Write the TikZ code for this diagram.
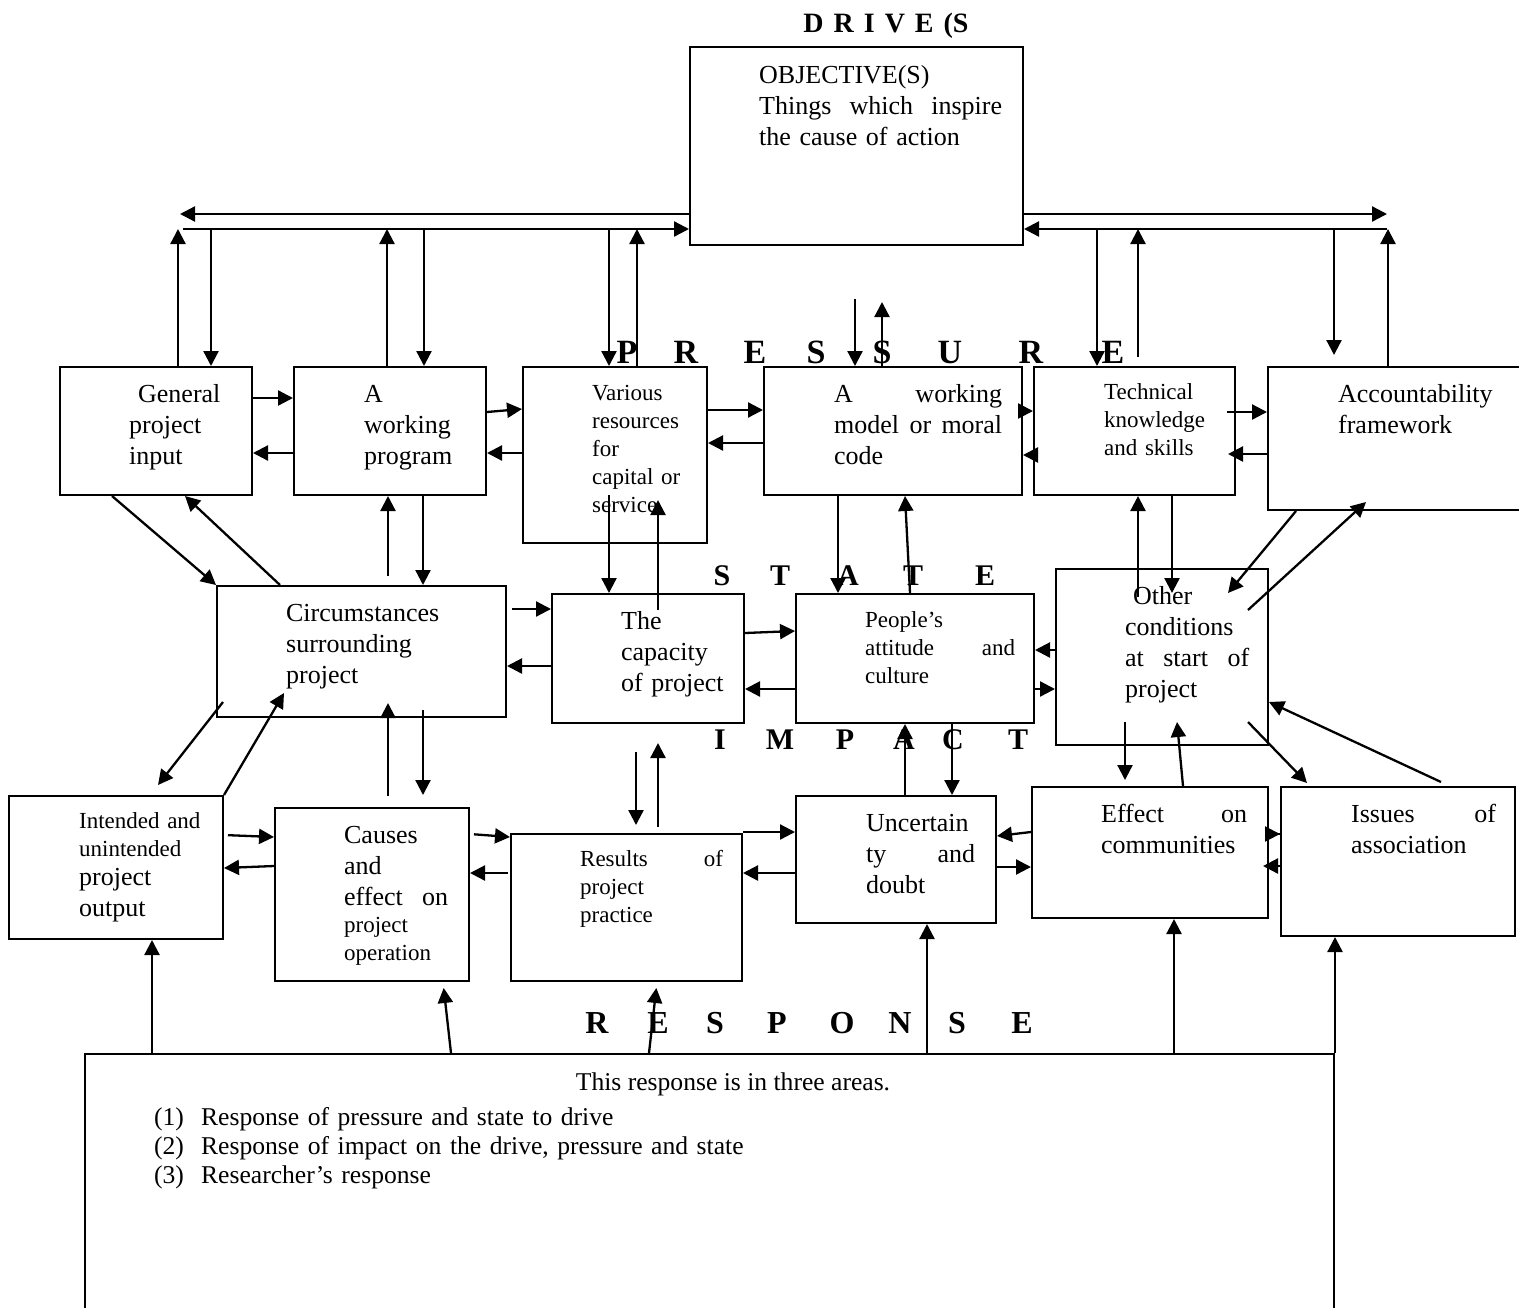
\documentclass[tikz,border=0pt]{standalone}
\usepackage{fontspec}
\setmainfont{Liberation Serif}
\usetikzlibrary{arrows.meta, fit, calc}

\begin{document}
\begin{tikzpicture}[x=0.5pt, y=-0.5pt, >={Triangle[length=7.5pt,width=7.5pt]}, line width=1.15pt,
    blk/.style={draw, line width=1pt, inner sep=0pt},
    txt/.style={anchor=base west, inner sep=0pt, align=left, font=\fontsize{13}{15.5}\selectfont},
    stxt/.style={txt, font=\fontsize{11.5}{14}\selectfont},
    rtxt/.style={txt, font=\fontsize{12.8}{14.5}\selectfont},
    ttl/.style={anchor=base, inner sep=0pt, font=\bfseries\fontsize{#1}{#1}\selectfont}]
    \path[use as bounding box] (0,0) rectangle (1519,1307);

    % boxes
    \node[blk, fit={(690,47) (1023,245)}] (drive) {};
    \node[blk, fit={(60,367) (252,495)}] (gpi) {};
    \node[blk, fit={(294,367) (486,495)}] (awp) {};
    \node[blk, fit={(523,367) (707,543)}] (vres) {};
    \node[blk, fit={(764,367) (1022,495)}] (wmod) {};
    \node[blk, fit={(1034,367) (1235,495)}] (tech) {};
    \node[blk, fit={(1268,367) (1522,510)}] (acct) {};
    \node[blk, fit={(217,586) (506,717)}] (circ) {};
    \node[blk, fit={(552,594) (744,723)}] (capa) {};
    \node[blk, fit={(796,594) (1034,723)}] (peop) {};
    \node[blk, fit={(1056,569) (1268,745)}] (othr) {};
    \node[blk, fit={(9,796) (223,939)}] (intd) {};
    \node[blk, fit={(275,808) (469,981)}] (caus) {};
    \node[blk, fit={(511,834) (742,981)}] (rslt) {};
    \node[blk, fit={(796,796) (996,923)}] (unct) {};
    \node[blk, fit={(1032,787) (1268,918)}] (effc) {};
    \node[blk, fit={(1281,787) (1515,936)}] (issu) {};
    \node[blk, fit={(85,1054) (1334,1330)}] (resp) {};

    % texts
    \node[ttl=14] (drv-t) at (886,32) {\spaceskip=5pt D R I V E (S};
    \node[txt, text width=121.5pt] (drive-t) at (758,83) {OBJECTIVE(S)\\Things\hfill which\hfill inspire\\the cause of action};
    \node[txt, text width=60pt] (gpi-t) at (128,402) {\hspace*{4.5pt}General\\project\\input};
    \node[txt, text width=60pt] (awp-t) at (363,402) {A\\working\\program};
    \node[stxt, text width=60pt] (vres-t) at (591,400) {Various\\resources\\for\\capital or\\service};
    \node[txt, text width=84pt] (wmod-t) at (833,402) {A\hfill working\\model\hfill or\hfill moral\\code};
    \node[stxt, text width=60pt] (tech-t) at (1103,399) {Technical\\knowledge\\and skills};
    \node[txt, text width=90pt] (acct-t) at (1337,402) {Accountability\\framework};
    \node[txt, text width=90pt] (circ-t) at (285,621) {Circumstances\\surrounding\\project};
    \node[txt, text width=60pt] (capa-t) at (620,629) {The\\capacity\\of project};
    \node[stxt, text width=75pt] (peop-t) at (864,627) {People’s\\attitude\hfill and\\culture};
    \node[txt, text width=62pt] (othr-t) at (1124,604) {\hspace*{4pt}Other\\conditions\\at\hfill start\hfill of\\project};
    \node[stxt, text width=70pt] (intd-t) at (78,828) {Intended and\\unintended};
    \node[txt, text width=70pt] (intd-u) at (78,885) {project\\output};
    \node[txt, text width=52pt] (caus-t) at (343,843) {Causes\\and\\effect\hfill on};
    \node[stxt, text width=52pt] (caus-u) at (343,932) {project\\operation};
    \node[stxt, text width=71.5pt] (rslt-t) at (579,866) {Results\hfill of\\project\\practice};
    \node[txt, text width=54.5pt] (unct-t) at (865,831) {Uncertain\\ty\hfill and\\doubt};
    \node[txt, text width=73pt] (effc-t) at (1100,822) {Effect\hfill on\\communities};
    \node[txt, text width=72.5pt] (issu-t) at (1350,822) {Issues\hfill of\\association};
    \node[rtxt, anchor=base] (resp-h) at (733,1090) {This response is in three areas.};
    \node[rtxt, text width=30pt] (resp-n) at (153,1125) {(1)\\(2)\\(3)};
    \node[rtxt, text width=400pt] (resp-l) at (200,1125) {Response of pressure and state to drive\\Response of impact on the drive, pressure and state\\Researcher’s response};

    % spaced headings
    \foreach \x/\c [count=\i] in {627/P,686/R,755/E,816/S,882/S,950/U,1031/R,1113/E}
        \node[ttl=17] (pr\i) at (\x,363) {\c};
    \foreach \x/\c [count=\i] in {722/S,780/T,848/A,913/T,985/E}
        \node[ttl=15] (st\i) at (\x,585) {\c};
    \foreach \x/\c [count=\i] in {720/I,780/M,845/P,904/A,953/C,1018/T}
        \node[ttl=15] (im\i) at (\x,749) {\c};
    \foreach \x/\c [count=\i] in {597/R,658/E,715/S,777/P,842/O,900/N,957/S,1022/E}
        \node[ttl=16] (re\i) at (\x,1033) {\c};

    % bus lines
    \coordinate (busLa) at (180,214); \coordinate (busLb) at (183,229);
    \coordinate (busRa) at (1387,214); \coordinate (busRb) at (1387,229);
    \draw[->] (drive.west |- busLa) -- (busLa);
    \draw[->] (busLb) -- (drive.west |- busLb);
    \draw[->] (drive.east |- busRa) -- (busRa);
    \draw[->] (busRb) -- (drive.east |- busRb);

    \draw[->] (gpi.north -| 178,0) -- (busLb -| 178,0);
    \draw[->] (busLb -| 211,0) -- (gpi.north -| 211,0);
    \draw[->] (awp.north -| 387,0) -- (busLb -| 387,0);
    \draw[->] (busLb -| 424,0) -- (awp.north -| 424,0);
    \draw[->] (busLb -| 609,0) -- (vres.north -| 609,0);
    \draw[->] (vres.north -| 637,0) -- (busLb -| 637,0);
    \draw[->] (busRb -| 1097,0) -- (tech.north -| 1097,0);
    \draw[->, shorten <=4.5pt] (tech.north -| 1138,0) -- (busRb -| 1138,0);
    \draw[->, shorten >=5.5pt] (busRb -| 1334,0) -- (acct.north -| 1334,0);
    \draw[->] (acct.north -| 1388,0) -- (busRb -| 1388,0);

    \coordinate (wm-in) at (855,299); \coordinate (wm-out) at (882,302);
    \draw[->] (wm-in) -- (wmod.north -| wm-in);
    \draw[->] (wmod.north -| wm-out) -- (wm-out);

    % first row
    \draw[->] (gpi.east |- 0,398) -- (awp.west |- 0,398);
    \draw[->] (awp.west |- 0,453) -- (gpi.east |- 0,453);
    \draw[->] (awp.east |- 0,412) -- (vres.west |- 0,409);
    \draw[->] (vres.west |- 0,453) -- (awp.east |- 0,453);
    \draw[->] (vres.east |- 0,410) -- (wmod.west |- 0,410);
    \draw[->] (wmod.west |- 0,443) -- (vres.east |- 0,443);
    \draw[->] (wmod.east |- 0,411) -- (tech.west |- 0,411);
    \draw[->] (tech.west |- 0,455) -- (wmod.east |- 0,455);
    \draw[->, shorten <=-4.5pt] (tech.east |- 0,412) -- (acct.west |- 0,412);
    \draw[->, shorten >=-4pt] (acct.west |- 0,454) -- (tech.east |- 0,454);

    % first row to second row
    \coordinate (vr-a) at (609,495); \coordinate (vr-b) at (658,500);
    \coordinate (cp-a) at (658,610);
    \coordinate (oc-a) at (1138,597); \coordinate (oc-b) at (1172,593);
    \coordinate (oc-c) at (1228,593); \coordinate (oc-d) at (1248,610);
    \coordinate (af-a) at (1366,502);
    \draw[->] (gpi.south -| 112,0) -- (circ.north west);
    \draw[->] (circ.north -| 280,0) -- (gpi.south -| 185,0);
    \draw[->, shorten <=4.5pt] (circ.north -| 388,0) -- (awp.south -| 388,0);
    \draw[->] (awp.south -| 423,0) -- (circ.north -| 423,0);
    \draw[->] (vr-a) -- (capa.north -| vr-a);
    \draw[->] (cp-a) -- (vr-b);
    \draw[->] (wmod.south -| 838,0) -- (peop.north -| 838,0);
    \draw[->] (peop.north -| 910,0) -- (wmod.south -| 905,0);
    \draw[->] (oc-a) -- (tech.south -| oc-a);
    \draw[->] (tech.south -| oc-b) -- (oc-b);
    \draw[->] (acct.south -| 1296,0) -- (oc-c);
    \draw[->] (oc-d) -- (af-a);

    % second row
    \draw[->, shorten <=2.5pt] (circ.east |- 0,609) -- (capa.west |- 0,609);
    \draw[->] (capa.west |- 0,666) -- (circ.east |- 0,666);
    \draw[->] (capa.east |- 0,633) -- (peop.west |- 0,631);
    \draw[->] (peop.west |- 0,689) -- (capa.east |- 0,689);
    \draw[->] (othr.west |- 0,650) -- (peop.east |- 0,650);
    \draw[->] (peop.east |- 0,689) -- (othr.west |- 0,689);

    % second row to third row
    \coordinate (ci-a) at (223,702); \coordinate (in-a) at (158,785);
    \coordinate (ci-b) at (284,693); \coordinate (ci-c) at (388,703);
    \coordinate (ci-d) at (423,710); \coordinate (ca-a) at (423,795);
    \coordinate (cp-b) at (636,752); \coordinate (rs-a) at (636,825);
    \coordinate (rs-b) at (658,827); \coordinate (cp-c) at (658,743);
    \coordinate (oc-e) at (1125,722); \coordinate (ef-a) at (1125,780);
    \coordinate (oc-f) at (1177,722); \coordinate (oc-g) at (1248,722);
    \coordinate (is-a) at (1307,783); \coordinate (is-b) at (1441,782);
    \draw[->] (ci-a) -- (in-a);
    \draw[->] (intd.north east) -- (ci-b);
    \draw[->, shorten <=5.5pt] (caus.north -| ci-c) -- (ci-c);
    \draw[->] (ci-d) -- (ca-a);
    \draw[->] (cp-b) -- (rs-a);
    \draw[->] (rs-b) -- (cp-c);
    \draw[->] (unct.north -| 905,0) -- (peop.south -| 905,0);
    \draw[->] (peop.south -| 952,0) -- (unct.north -| 952,0);
    \draw[->] (oc-e) -- (ef-a);
    \draw[->] (effc.north -| 1183,0) -- (oc-f);
    \draw[->] (oc-g) -- (is-a);
    \draw[->] (is-b) -- (othr.east |- 0,702);

    % third row
    \draw[->, shorten <=2pt] (intd.east |- 0,835) -- (caus.west |- 0,837);
    \draw[->] (caus.west |- 0,866) -- (intd.east |- 0,868);
    \draw[->, shorten <=2pt] (caus.east |- 0,834) -- (rslt.west |- 0,837);
    \draw[->, shorten <=1pt] (rslt.west |- 0,873) -- (caus.east |- 0,873);
    \draw[->] (rslt.east |- 0,832) -- (unct.west |- 0,832);
    \draw[->] (unct.west |- 0,873) -- (rslt.east |- 0,873);
    \draw[->] (effc.west |- 0,832) -- (unct.east |- 0,836);
    \draw[->] (unct.east |- 0,867) -- (effc.west |- 0,867);
    \draw[->, shorten <=-6pt] (effc.east |- 0,834) -- (issu.west |- 0,834);
    \draw[->, shorten >=-3pt] (issu.west |- 0,866) -- (effc.east |- 0,866);

    % response
    \draw[->] (resp.north -| 152,0) -- (intd.south -| 152,0);
    \draw[->, shorten >=3pt] (resp.north -| 451,0) -- (caus.south -| 443,0);
    \draw[->, shorten >=3pt] (resp.north -| 649,0) -- (rslt.south -| 657,0);
    \draw[->] (resp.north -| 927,0) -- (unct.south -| 927,0);
    \draw[->] (resp.north -| 1174,0) -- (effc.south -| 1174,0);
    \draw[->] (resp.north east) -- (issu.south -| resp.north east);
\end{tikzpicture}
\end{document}
